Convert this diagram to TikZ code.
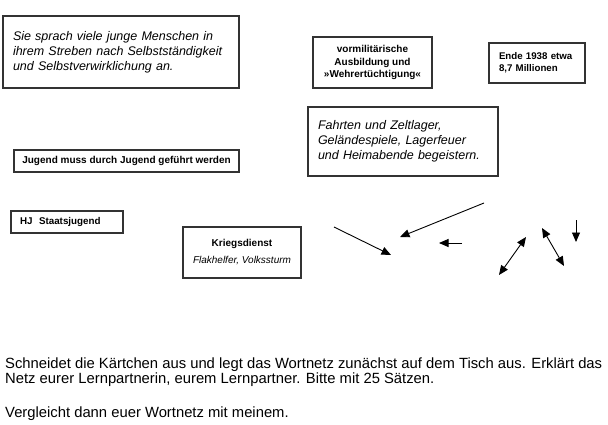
\documentclass[tikz,border=0pt]{standalone}
\usepackage{fontspec}
\setmainfont{Liberation Sans}
\usetikzlibrary{arrows.meta}
\begin{document}
\begin{tikzpicture}[x=1pt,y=-1pt,
  card/.style={draw=black!80,line width=1.1pt,fill=white,rectangle,inner ysep=0pt},
  conn/.style={line width=0.9pt,-{Triangle[length=9.5pt,width=8pt]}},
  dconn/.style={line width=0.9pt,{Triangle[length=9.5pt,width=8pt]}-{Triangle[length=9.5pt,width=8pt]}},
  itext/.style={font=\itshape\fontsize{12.5}{15}\selectfont},
  btext/.style={font=\bfseries\fontsize{10}{12.5}\selectfont}]
\useasboundingbox[fill=white] (0,0) rectangle (608,424);

\node[card,itext,minimum width=236pt,minimum height=72pt,inner xsep=10pt,text width=216pt,align=left] (sie) at (121,52)
  {Sie sprach viele junge Menschen in\\ihrem Streben nach Selbstständigkeit\\und Selbstverwirklichung an.};

\node[card,btext,minimum width=119pt,minimum height=51pt,align=center] (vorm) at (372.5,62.5)
  {vormilitärische\\Ausbildung und\\»Wehrertüchtigung«};

\node[card,btext,font=\bfseries\fontsize{9.7}{12}\selectfont,minimum width=96pt,minimum height=40pt,inner xsep=10pt,text width=76pt,align=left] (ende) at (537,63)
  {Ende 1938 etwa\\8,7 Millionen};

\node[card,itext,minimum width=190pt,minimum height=69pt,inner xsep=10pt,text width=170pt,align=left] (fahrt) at (403,141.5)
  {Fahrten und Zeltlager,\\Geländespiele, Lagerfeuer\\und Heimabende begeistern.};

\node[card,btext,minimum width=225pt,minimum height=22pt,align=center] (jug) at (126.5,161)
  {Jugend muss durch Jugend geführt werden};

\node[card,btext,font=\bfseries\fontsize{9.8}{12}\selectfont,minimum width=112pt,minimum height=22pt,inner xsep=9pt,text width=94pt,align=left] (hj) at (67,222)
  {HJ\ \ Staatsjugend};

\node[card,minimum width=118pt,minimum height=51pt,align=center] (krieg) at (242,252.5)
  {{\bfseries\fontsize{10}{12}\selectfont Kriegsdienst}\\[5pt]{\itshape\fontsize{10}{12}\selectfont Flakhelfer, Volkssturm}};

% free arrows
\coordinate (a1s) at (334,227); \coordinate (a1e) at (391,255);
\coordinate (a2s) at (484,203); \coordinate (a2e) at (400,237);
\coordinate (a3s) at (462,243); \coordinate (a3e) at (439,243);
\coordinate (a4s) at (499,275); \coordinate (a4e) at (526,237);
\coordinate (a5s) at (542,228); \coordinate (a5e) at (564,266);
\coordinate (a6s) at (576,220); \coordinate (a6e) at (576,242);
\draw[conn] (a1s) -- (a1e);
\draw[conn] (a2s) -- (a2e);
\draw[conn] (a3s) -- (a3e);
\draw[dconn] (a4s) -- (a4e);
\draw[dconn] (a5s) -- (a5e);
\draw[conn] (a6s) -- (a6e);

\node[anchor=base west,inner sep=0pt,align=left,font=\fontsize{14.8}{15}\selectfont] (task) at (5,417)
  {Schneidet die Kärtchen aus und legt das Wortnetz zunächst auf dem Tisch aus. Erklärt das\\
   Netz eurer Lernpartnerin, eurem Lernpartner. Bitte mit 25 Sätzen.\\[19pt]
   Vergleicht dann euer Wortnetz mit meinem.};
\end{tikzpicture}
\end{document}
